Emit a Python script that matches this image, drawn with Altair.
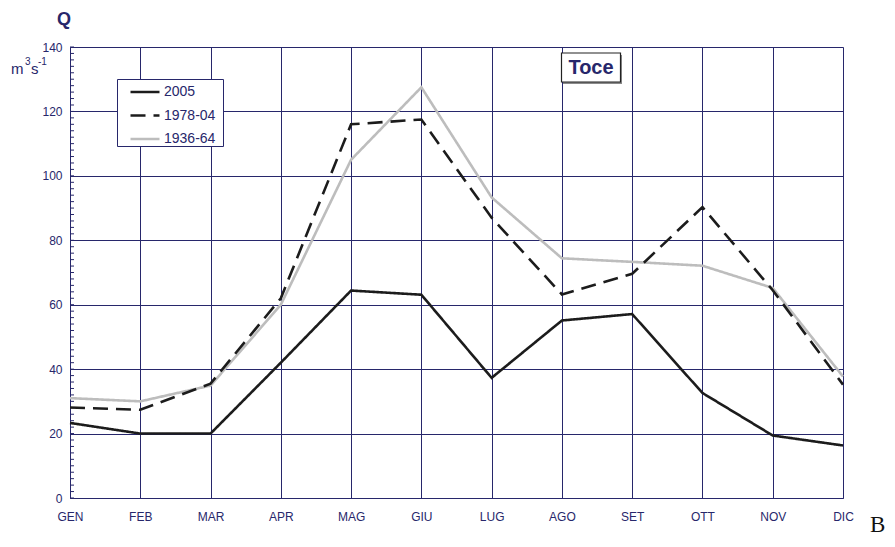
import altair as alt
import pandas as pd

months = ["GEN", "FEB", "MAR", "APR", "MAG", "GIU", "LUG", "AGO", "SET", "OTT", "NOV", "DIC"]
s2005 = [23.3, 20.0, 20.0, 42.0, 64.4, 63.1, 37.3, 55.1, 57.1, 32.6, 19.4, 16.3]
s1978 = [28.1, 27.4, 35.5, 62.0, 116.0, 117.5, 87.0, 63.2, 69.6, 90.3, 64.5, 35.2]
s1936 = [31.0, 30.0, 34.9, 60.0, 105.0, 127.5, 93.3, 74.4, 73.3, 72.1, 65.2, 37.7]
series_names = ["2005", "1978-04", "1936-64"]
y_ticks = [0, 20, 40, 60, 80, 100, 120, 140]
minor_ticks = list(range(0, 141, 2))

NAVY = "#27276b"
FONT = "Liberation Sans"

rows = []
for name, vals in zip(["1936-64", "1978-04", "2005"], [s1936, s1978, s2005]):
    for m, v in zip(months, vals):
        rows.append({"mese": m, "Q": v, "serie": name})
df = pd.DataFrame(rows)

W, H = 773, 451

yaxis = alt.Axis(title=None, values=y_ticks, grid=True, gridColor=NAVY, gridOpacity=1,
                 ticks=False, labelPadding=8, labelFontSize=12, labelColor=NAVY,
                 labelFont=FONT, domain=True, domainColor=NAVY)
yscale = alt.Scale(domain=[0, 140], nice=False)

xenc = alt.X("mese:N", sort=months, scale=alt.Scale(type="point", padding=0),
             axis=alt.Axis(title=None, grid=True, gridColor=NAVY, gridOpacity=1, ticks=False,
                           labelPadding=13, labelFontSize=12, labelColor=NAVY, labelFont=FONT,
                           domain=True, domainColor=NAVY, labelAngle=0))

leg = alt.Legend(title="|", titleOrient="right", titleColor="white", titleFontSize=10,
                 titlePadding=5,
                 orient="none", legendX=47, legendY=32, padding=0,
                 strokeColor=NAVY, fillColor="white", symbolType="M-1.26,0H1.26",
                 symbolSize=529, symbolOffset=15, labelFontSize=14,
                 labelColor=NAVY, labelFont=FONT, rowPadding=3.5, labelOffset=6,
                 symbolOpacity=1)

lines = alt.Chart(df).mark_line(clip=False).encode(
    x=xenc,
    y=alt.Y("Q:Q", scale=yscale, axis=yaxis),
    color=alt.Color("serie:N", sort=series_names,
                    scale=alt.Scale(domain=series_names, range=["#1c1c1c", "#1c1c1c", "#bdbdbd"]),
                    legend=leg),
    strokeDash=alt.StrokeDash("serie:N", sort=series_names,
                              scale=alt.Scale(domain=series_names, range=[[1, 0], [15, 8], [1, 0]]),
                              legend=leg),
    strokeWidth=alt.StrokeWidth("serie:N", sort=series_names,
                                scale=alt.Scale(domain=series_names, range=[2.6, 2.6, 1.3]),
                                legend=leg),
)

minor = alt.Chart(pd.DataFrame({"v": minor_ticks})).mark_rule(color=NAVY, strokeWidth=1).encode(
    y=alt.Y("v:Q", scale=yscale, axis=yaxis),
    x=alt.value(0), x2=alt.value(4),
)

one = pd.DataFrame({"t": ["Toce"]})
shadow = alt.Chart(one).mark_rect(fill="#8a8a8a").encode(
    x=alt.value(493), x2=alt.value(552), y=alt.value(8), y2=alt.value(37))
box = alt.Chart(one).mark_rect(fill="white", stroke="#222222", strokeWidth=1.2).encode(
    x=alt.value(491.5), x2=alt.value(550.5), y=alt.value(6), y2=alt.value(35))
toce = alt.Chart(one).mark_text(
    font=FONT, fontSize=20, fontWeight="bold", color=NAVY, align="center", baseline="middle"
).encode(text="t:N", x=alt.value(521), y=alt.value(21))

def label(txt, x, y, size, weight="normal", font=FONT, color=NAVY):
    return alt.Chart(pd.DataFrame({"t": [txt]})).mark_text(
        font=font, fontSize=size, fontWeight=weight, color=color,
        align="left", baseline="alphabetic"
    ).encode(text="t:N", x=alt.value(x), y=alt.value(y))

q = label("Q", -13, -22, 18, "bold")
u_m = label("m", -59, 27, 15)
u_3 = label("3", -45, 18, 10)
u_s = label("s", -39, 27, 15)
u_e = label("-1", -32, 18, 10)
b = label("B", 800, 485, 23, font="Liberation Serif", color="#111111")

chart = alt.layer(minor, lines, shadow, box, toce, q, u_m, u_3, u_s, u_e, b).resolve_scale(
    color="independent", strokeDash="independent", strokeWidth="independent"
).properties(
    width=W, height=H, autosize=alt.AutoSizeParams(type="none"),
    padding={"left": 62, "top": 39, "right": 44, "bottom": 41},
).configure_view(stroke=NAVY, strokeWidth=1.2).configure(background="white")

chart.save("out.html", embed_options={"renderer": "svg", "actions": False})
